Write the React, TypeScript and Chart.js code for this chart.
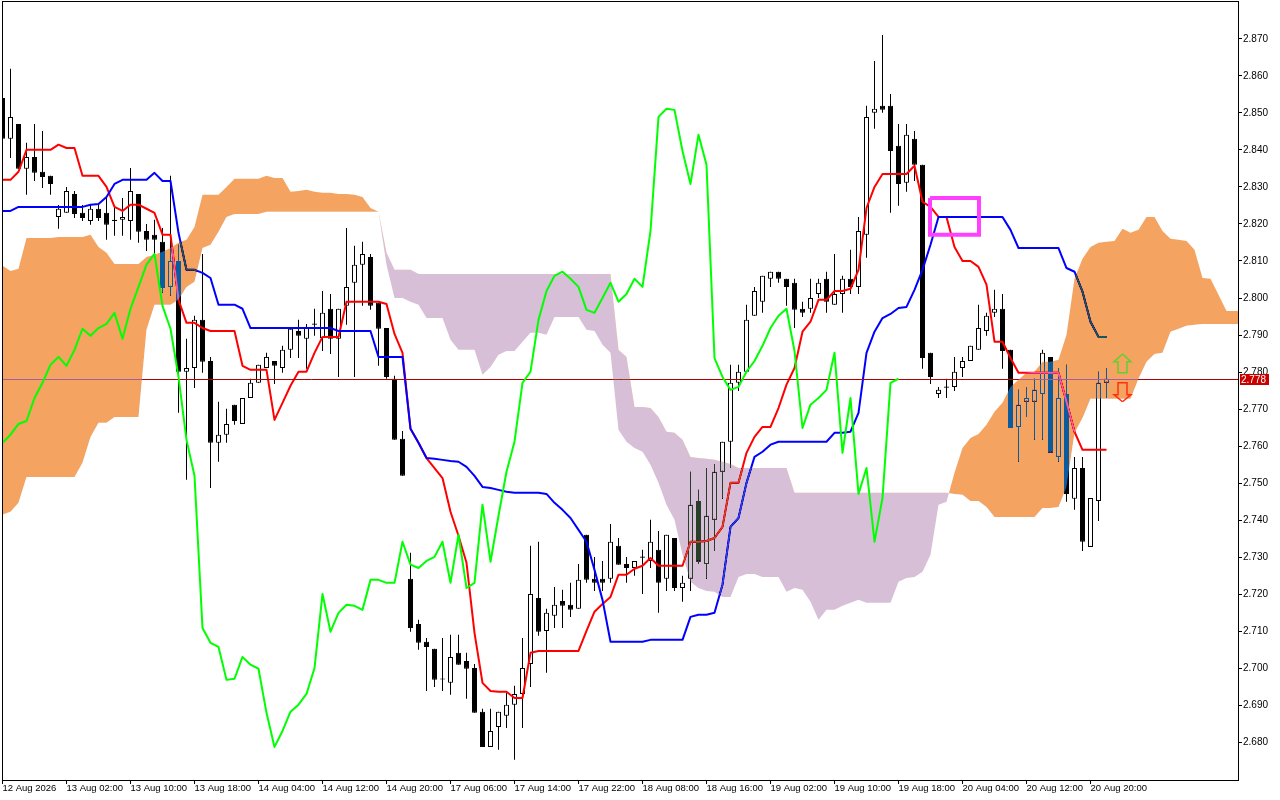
import React, { useEffect, useRef } from "react";
import { Chart, registerables } from "chart.js";

const opens = [
  2.8540,2.8430,2.8470,2.8349,2.8381,2.8341,2.8330,2.8219,2.8230,2.8281,
  2.8230,2.8208,2.8241,2.8230,2.8208,2.8211,2.8208,2.8281,2.8181,2.8171,
  2.8152,2.8030,2.8100,2.7801,2.7811,2.7941,2.7830,2.7609,2.7631,2.7712,
  2.7660,2.7730,2.7771,2.7811,2.7830,2.7811,2.7860,2.7911,2.7890,2.7928,
  2.7892,2.7971,2.7890,2.7979,2.8041,2.8090,2.8111,2.7987,2.7919,2.7782,
  2.7620,2.7242,2.7120,2.7072,2.7053,2.6970,2.6961,2.7042,2.7020,2.7001,
  2.6883,2.6788,2.6842,2.6872,2.6902,2.6931,2.7012,2.7190,2.7101,2.7142,
  2.7182,2.7172,2.7161,2.7361,2.7242,2.7242,2.7242,2.7331,2.7282,2.7271,
  2.7299,2.7290,2.7320,2.7242,2.7352,2.7217,2.7242,2.7452,2.7282,2.7401,
  2.7531,2.7612,2.7771,2.7801,2.7952,2.7990,2.8052,2.8071,2.8052,2.8041,
  2.7971,2.7971,2.8011,2.8052,2.7982,2.8011,2.8052,2.8030,2.8171,2.8500,
  2.8519,2.8519,2.8411,2.8311,2.8430,2.8360,2.7852,2.7741,2.7758,2.7760,
  2.7811,2.7830,2.7860,2.7911,2.7960,2.7971,2.7860,2.7652,2.7720,2.7720,
  2.7741,2.7841,2.7571,2.7741,2.7458,2.7541,2.7328,2.7452,2.7771,
];
const highs = [
  2.8540,2.8619,2.8470,2.8419,2.8470,2.8451,2.8330,2.8251,2.8300,2.8289,
  2.8251,2.8251,2.8251,2.8270,2.8246,2.8270,2.8351,2.8281,2.8200,2.8211,
  2.8189,2.8330,2.8144,2.7890,2.7952,2.8119,2.7841,2.7720,2.7701,2.7712,
  2.7730,2.7782,2.7820,2.7852,2.7830,2.7871,2.7917,2.7941,2.7930,2.7971,
  2.8019,2.8011,2.7971,2.8189,2.8141,2.8152,2.8119,2.7987,2.7919,2.7790,
  2.7641,2.7312,2.7131,2.7082,2.7053,2.7082,2.7091,2.7091,2.7042,2.7012,
  2.6891,2.6891,2.6883,2.6934,2.6953,2.7082,2.7331,2.7342,2.7161,2.7220,
  2.7212,2.7231,2.7282,2.7361,2.7301,2.7290,2.7390,2.7352,2.7301,2.7290,
  2.7320,2.7401,2.7371,2.7361,2.7352,2.7250,2.7531,2.7482,2.7541,2.7552,
  2.7612,2.7820,2.7820,2.7982,2.8030,2.8060,2.8071,2.8071,2.8052,2.8052,
  2.7990,2.8052,2.8052,2.8071,2.8119,2.8060,2.8130,2.8219,2.8519,2.8640,
  2.8710,2.8551,2.8470,2.8470,2.8451,2.8360,2.7852,2.7760,2.7782,2.7841,
  2.7841,2.7871,2.7982,2.7960,2.8022,2.8011,2.7860,2.7752,2.7760,2.7782,
  2.7860,2.7841,2.7811,2.7820,2.7571,2.7571,2.7460,2.7801,2.7811,
];
const lows = [
  2.8430,2.8378,2.8349,2.8279,2.8316,2.8297,2.8279,2.8187,2.8230,2.8216,
  2.8208,2.8198,2.8208,2.8157,2.8168,2.8168,2.8157,2.8149,2.8127,2.8119,
  2.8014,2.8006,2.7690,2.7509,2.7757,2.7798,2.7487,2.7558,2.7609,2.7658,
  2.7660,2.7730,2.7771,2.7811,2.7768,2.7798,2.7838,2.7838,2.7809,2.7898,
  2.7857,2.7849,2.7787,2.7928,2.7787,2.7979,2.7968,2.7817,2.7782,2.7617,
  2.7520,2.7099,2.7050,2.6939,2.6950,2.6939,2.6929,2.7010,2.6918,2.6880,
  2.6788,2.6788,2.6780,2.6839,2.6753,2.6839,2.6950,2.7088,2.6988,2.7109,
  2.7109,2.7139,2.7161,2.7231,2.7209,2.7209,2.7231,2.7280,2.7231,2.7250,
  2.7201,2.7271,2.7150,2.7209,2.7209,2.7180,2.7209,2.7282,2.7242,2.7317,
  2.7458,2.7541,2.7749,2.7801,2.7952,2.7960,2.8030,2.8041,2.7979,2.7919,
  2.7949,2.7960,2.8000,2.7960,2.7982,2.7960,2.8011,2.8011,2.8109,2.8457,
  2.8500,2.8230,2.8249,2.8287,2.8316,2.7809,2.7768,2.7730,2.7730,2.7749,
  2.7787,2.7830,2.7860,2.7898,2.7949,2.7809,2.7649,2.7558,2.7679,2.7617,
  2.7617,2.7582,2.7558,2.7450,2.7428,2.7317,2.7328,2.7398,2.7730,
];
const closes = [
  2.8430,2.8489,2.8349,2.8381,2.8338,2.8327,2.8308,2.8241,2.8289,2.8227,
  2.8216,2.8241,2.8216,2.8198,2.8211,2.8219,2.8289,2.8179,2.8157,2.8157,
  2.8027,2.8100,2.7801,2.7811,2.7941,2.7828,2.7609,2.7631,2.7660,2.7668,
  2.7730,2.7771,2.7820,2.7841,2.7817,2.7860,2.7917,2.7898,2.7919,2.7931,
  2.7960,2.7890,2.7971,2.8030,2.8090,2.8119,2.7979,2.7917,2.7787,2.7617,
  2.7520,2.7109,2.7069,2.7058,2.6969,2.6973,2.7031,2.7010,2.6999,2.6880,
  2.6788,2.6831,2.6883,2.6902,2.6931,2.7001,2.7201,2.7099,2.7150,2.7172,
  2.7169,2.7158,2.7239,2.7239,2.7231,2.7231,2.7342,2.7280,2.7271,2.7290,
  2.7302,2.7342,2.7231,2.7361,2.7217,2.7231,2.7442,2.7288,2.7412,2.7531,
  2.7612,2.7771,2.7801,2.7941,2.8019,2.8060,2.8071,2.8052,2.8030,2.7968,
  2.7960,2.8000,2.8041,2.7990,2.8011,2.8052,2.8030,2.8181,2.8489,2.8511,
  2.8508,2.8397,2.8308,2.8441,2.8360,2.7838,2.7787,2.7752,2.7761,2.7801,
  2.7830,2.7871,2.7919,2.7952,2.7971,2.7857,2.7649,2.7712,2.7730,2.7752,
  2.7852,2.7582,2.7730,2.7471,2.7541,2.7342,2.7460,2.7771,2.7782,
];
const tenkan = [
  2.8319,2.8319,2.8341,2.8400,2.8400,2.8400,2.8400,2.8414,2.8405,2.8405,
  2.8330,2.8330,2.8330,2.8300,2.8246,2.8235,2.8252,2.8252,2.8241,2.8230,
  2.8171,2.8171,2.7995,2.7933,2.7933,2.7919,2.7911,2.7911,2.7911,2.7911,
  2.7817,2.7806,2.7806,2.7806,2.7671,2.7717,2.7763,2.7801,2.7801,2.7852,
  2.7895,2.7895,2.7895,2.7990,2.7990,2.7990,2.7990,2.7990,2.7984,2.7903,
  2.7852,2.7647,2.7609,2.7568,2.7541,2.7514,2.7423,2.7358,2.7285,2.7096,
  2.6961,2.6939,2.6937,2.6937,2.6920,2.6920,2.7042,2.7047,2.7047,2.7047,
  2.7047,2.7047,2.7047,2.7101,2.7153,2.7174,2.7193,2.7253,2.7253,2.7269,
  2.7277,2.7298,2.7277,2.7277,2.7277,2.7277,2.7342,2.7342,2.7344,2.7352,
  2.7382,2.7501,2.7501,2.7582,2.7625,2.7652,2.7652,2.7703,2.7766,2.7811,
  2.7909,2.7936,2.7995,2.7995,2.8019,2.8019,2.8025,2.8076,2.8243,2.8300,
  2.8335,2.8335,2.8335,2.8335,2.8357,2.8260,2.8246,2.8219,2.8219,2.8138,
  2.8100,2.8100,2.8084,2.8036,2.7882,2.7882,2.7838,2.7798,2.7798,2.7798,
  2.7798,2.7798,2.7798,2.7720,2.7639,2.7590,2.7590,2.7590,2.7590,
];
const kijun = [
  2.8235,2.8235,2.8246,2.8246,2.8246,2.8246,2.8246,2.8246,2.8246,2.8246,
  2.8246,2.8252,2.8254,2.8273,2.8308,2.8319,2.8319,2.8319,2.8319,2.8338,
  2.8316,2.8316,2.8176,2.8076,2.8076,2.8068,2.8054,2.7982,2.7982,2.7982,
  2.7971,2.7919,2.7919,2.7919,2.7919,2.7919,2.7919,2.7919,2.7919,2.7919,
  2.7919,2.7919,2.7911,2.7911,2.7911,2.7911,2.7911,2.7841,2.7841,2.7841,
  2.7841,2.7647,2.7609,2.7568,2.7566,2.7563,2.7560,2.7558,2.7544,2.7520,
  2.7490,2.7487,2.7482,2.7477,2.7474,2.7474,2.7474,2.7474,2.7471,2.7447,
  2.7428,2.7406,2.7374,2.7342,2.7266,2.7185,2.7072,2.7072,2.7072,2.7072,
  2.7072,2.7077,2.7077,2.7077,2.7077,2.7077,2.7139,2.7145,2.7145,2.7150,
  2.7226,2.7382,2.7406,2.7501,2.7571,2.7585,2.7604,2.7612,2.7612,2.7612,
  2.7612,2.7612,2.7612,2.7612,2.7636,2.7636,2.7639,2.7690,2.7852,2.7909,
  2.7946,2.7957,2.7973,2.7976,2.8022,2.8076,2.8144,2.8219,2.8219,2.8219,
  2.8219,2.8219,2.8219,2.8219,2.8219,2.8219,2.8184,2.8135,2.8135,2.8135,
  2.8135,2.8135,2.8135,2.8081,2.8071,2.8017,2.7936,2.7895,2.7895,
];
const chikou = [
  2.7609,2.7631,2.7660,2.7668,2.7730,2.7771,2.7820,2.7841,2.7817,2.7860,
  2.7917,2.7898,2.7919,2.7930,2.7960,2.7890,2.7971,2.8030,2.8090,2.8119,
  2.7979,2.7917,2.7787,2.7617,2.7520,2.7109,2.7069,2.7058,2.6969,2.6972,
  2.7031,2.7010,2.6999,2.6880,2.6788,2.6831,2.6883,2.6902,2.6931,2.7001,
  2.7201,2.7099,2.7150,2.7172,2.7169,2.7158,2.7239,2.7239,2.7231,2.7231,
  2.7342,2.7280,2.7271,2.7290,2.7301,2.7342,2.7231,2.7361,2.7217,2.7231,
  2.7442,2.7288,2.7412,2.7531,2.7612,2.7771,2.7801,2.7941,2.8019,2.8060,
  2.8071,2.8052,2.8030,2.7968,2.7960,2.8000,2.8041,2.7990,2.8011,2.8052,
  2.8030,2.8181,2.8489,2.8511,2.8508,2.8397,2.8308,2.8441,2.8360,2.7838,
  2.7787,2.7752,2.7760,2.7801,2.7830,2.7871,2.7919,2.7952,2.7971,2.7857,
  2.7649,2.7712,2.7730,2.7752,2.7852,2.7582,2.7730,2.7471,2.7541,2.7342,
  2.7460,2.7771,2.7782,
];
const senkouA = [
  2.8087,2.8073,2.8079,2.8162,2.8162,2.8162,2.8162,2.8165,2.8165,2.8165,
  2.8165,2.8171,2.8138,2.8122,2.8092,2.8092,2.8092,2.8092,2.8111,2.8117,
  2.8125,2.8135,2.8149,2.8157,2.8192,2.8279,2.8279,2.8279,2.8300,2.8322,
  2.8322,2.8322,2.8322,2.8330,2.8324,2.8324,2.8287,2.8289,2.8292,2.8287,
  2.8284,2.8284,2.8281,2.8281,2.8279,2.8273,2.8243,2.8233,2.8090,2.8000,
  2.8000,2.7990,2.7982,2.7946,2.7946,2.7946,2.7887,2.7860,2.7860,2.7860,
  2.7793,2.7814,2.7847,2.7857,2.7857,2.7882,2.7906,2.7906,2.7901,2.7949,
  2.7949,2.7949,2.7949,2.7914,2.7911,2.7874,2.7852,2.7644,2.7612,2.7595,
  2.7585,2.7550,2.7501,2.7442,2.7401,2.7307,2.7234,2.7217,2.7209,2.7207,
  2.7193,2.7193,2.7247,2.7255,2.7255,2.7247,2.7247,2.7247,2.7207,2.7217,
  2.7212,2.7180,2.7131,2.7158,2.7158,2.7169,2.7177,2.7185,2.7177,2.7177,
  2.7177,2.7177,2.7234,2.7244,2.7247,2.7261,2.7307,2.7442,2.7450,2.7528,
  2.7595,2.7622,2.7633,2.7658,2.7693,2.7717,2.7760,2.7779,2.7798,2.7801,
  2.7828,2.7828,2.7833,2.7901,2.8052,2.8106,2.8138,2.8149,2.8152,2.8154,
  2.8187,2.8176,2.8184,2.8219,2.8219,2.8181,2.8160,2.8157,2.8154,2.8130,
  2.8054,2.8052,2.8009,2.7965,2.7965,2.7965,
];
const senkouB = [
  2.7415,2.7423,2.7447,2.7517,2.7517,2.7517,2.7517,2.7517,2.7517,2.7517,
  2.7555,2.7625,2.7663,2.7663,2.7679,2.7679,2.7679,2.7679,2.7914,2.7982,
  2.7982,2.7982,2.7995,2.8030,2.8044,2.8135,2.8144,2.8179,2.8219,2.8227,
  2.8227,2.8227,2.8227,2.8233,2.8233,2.8233,2.8233,2.8233,2.8233,2.8233,
  2.8233,2.8233,2.8233,2.8233,2.8233,2.8233,2.8233,2.8233,2.8122,2.8076,
  2.8076,2.8076,2.8065,2.8065,2.8065,2.8065,2.8065,2.8065,2.8065,2.8065,
  2.8065,2.8065,2.8065,2.8065,2.8065,2.8065,2.8065,2.8065,2.8065,2.8065,
  2.8065,2.8065,2.8065,2.8065,2.8065,2.8065,2.8065,2.7860,2.7841,2.7706,
  2.7706,2.7703,2.7679,2.7639,2.7636,2.7617,2.7571,2.7568,2.7566,2.7563,
  2.7558,2.7552,2.7541,2.7541,2.7541,2.7541,2.7541,2.7541,2.7541,2.7474,
  2.7474,2.7474,2.7474,2.7474,2.7474,2.7474,2.7474,2.7474,2.7474,2.7474,
  2.7474,2.7474,2.7474,2.7474,2.7474,2.7474,2.7474,2.7474,2.7474,2.7471,
  2.7469,2.7452,2.7452,2.7436,2.7409,2.7409,2.7409,2.7409,2.7409,2.7409,
  2.7433,2.7433,2.7436,2.7490,2.7636,2.7676,2.7728,2.7728,2.7728,2.7728,
  2.7728,2.7728,2.7782,2.7828,2.7849,2.7852,2.7909,2.7917,2.7925,2.7928,
  2.7930,2.7930,2.7930,2.7930,2.7930,2.7930,
];
const timeTickIndex = [0,8,16,24,32,40,48,56,64,72,80,88,96,104,112,120,128,136];
const timeTickLabels = [
  "12 Aug 2026","13 Aug 02:00","13 Aug 10:00","13 Aug 18:00","14 Aug 04:00","14 Aug 12:00",
  "14 Aug 20:00","17 Aug 06:00","17 Aug 14:00","17 Aug 22:00","18 Aug 08:00","18 Aug 16:00",
  "19 Aug 02:00","19 Aug 10:00","19 Aug 18:00","20 Aug 04:00","20 Aug 12:00","20 Aug 20:00",
];
const priceTicks = [
  2.68,2.69,2.70,2.71,2.72,2.73,2.74,2.75,2.76,2.77,2.78,2.79,2.80,2.81,2.82,2.83,2.84,2.85,2.86,2.87,
];
const lastPrice = 2.778;
const boxIndex = [115.94, 122.06, 122.06, 115.94, 115.94];
const boxPrice = [2.8270, 2.8270, 2.8171, 2.8171, 2.8270];
const upArrowIndex = [140, 141.06, 140.56, 140.56, 139.44, 139.44, 138.94, 140];
const upArrowPrice = [2.7849, 2.7828, 2.7828, 2.7798, 2.7798, 2.7828, 2.7828, 2.7849];
const downArrowIndex = [140, 141.06, 140.56, 140.56, 139.44, 139.44, 138.94, 140];
const downArrowPrice = [2.7720, 2.7739, 2.7739, 2.7771, 2.7771, 2.7739, 2.7739, 2.7720];

const FONT = '"Liberation Sans", Arial, sans-serif';

const xy = (ys: number[]) => ys.map((y, x) => ({ x, y }));
const pairs = (xs: number[], ys: number[]) => xs.map((x, i) => ({ x, y: ys[i] }));

const blendPlugin = {
  id: "kumoBlend",
  beforeDraw(chart: any) {
    const { ctx, width, height } = chart;
    ctx.save();
    ctx.fillStyle = "#ffffff";
    ctx.fillRect(0, 0, width, height);
    ctx.restore();
  },
  beforeDatasetDraw(chart: any, args: any) {
    if (chart.data.datasets[args.index].label === "Senkou A") {
      chart.ctx.save();
      chart.ctx.globalCompositeOperation = "difference";
    }
  },
  afterDatasetDraw(chart: any, args: any) {
    if (chart.data.datasets[args.index].label === "Senkou A") {
      chart.ctx.restore();
    }
  },
  afterDraw(chart: any) {
    const { ctx, chartArea, scales } = chart;
    ctx.save();
    ctx.strokeStyle = "#000000";
    ctx.lineWidth = 1;
    ctx.strokeRect(
      chartArea.left - 0.5,
      chartArea.top - 0.5,
      chartArea.right - chartArea.left + 1,
      chartArea.bottom - chartArea.top + 1
    );
    const y = scales.y.getPixelForValue(lastPrice);
    const top = Math.round(y) - 6;
    ctx.fillStyle = "#C80000";
    ctx.fillRect(chartArea.right + 2, top, 29, 11);
    ctx.fillStyle = "#ffffff";
    ctx.font = `10px ${FONT}`;
    ctx.textAlign = "left";
    ctx.textBaseline = "middle";
    ctx.fillText(lastPrice.toFixed(3), chartArea.right + 3, top + 6);
    ctx.restore();
  },
};

Chart.register(blendPlugin as any);
Chart.register(...registerables);

export default function App() {
  const ref = useRef<HTMLCanvasElement | null>(null);
  useEffect(() => {
    if (!ref.current) return;
    const lineBase = { type: "line", pointRadius: 0, borderWidth: 2, tension: 0, fill: false, borderJoinStyle: "round" };
    const chart = new Chart(ref.current, {
      type: "bar",
      data: {
        datasets: [
          {
            label: "Wicks",
            type: "bar",
            order: 10,
            grouped: false,
            barThickness: 1,
            inflateAmount: 0,
            backgroundColor: "#000000",
            borderWidth: 0,
            data: highs.map((h, x) => ({ x, y: [lows[x], h] })),
          },
          {
            label: "Bodies",
            type: "bar",
            order: 9,
            grouped: false,
            barThickness: 5,
            inflateAmount: 0,
            borderSkipped: false,
            borderWidth: 1,
            borderColor: "#000000",
            backgroundColor: opens.map((o, i) => (closes[i] >= o ? "#ffffff" : "#000000")),
            data: opens.map((o, x) => ({ x, y: [o, closes[x]] })),
          },
          { ...lineBase, label: "Tenkan", order: 8, borderColor: "#ff0000", data: xy(tenkan) },
          { ...lineBase, label: "Kijun", order: 7, borderColor: "#0000ff", data: xy(kijun) },
          {
            ...lineBase,
            label: "Price",
            order: 6,
            borderWidth: 1,
            borderColor: "#b40000",
            data: [{ x: 0, y: lastPrice }, { x: 155, y: lastPrice }],
          },
          {
            ...lineBase,
            label: "Senkou A",
            order: 5,
            borderWidth: 0,
            borderColor: "rgba(0,0,0,0)",
            fill: { target: "+1", above: "#0B5B9F", below: "#274027" },
            data: xy(senkouA),
          },
          {
            ...lineBase,
            label: "Senkou B",
            order: 5,
            borderWidth: 0,
            borderColor: "rgba(0,0,0,0)",
            data: xy(senkouB),
          },
          { ...lineBase, label: "Chikou", order: 4, borderColor: "#00ff00", data: xy(chikou) },
          {
            ...lineBase,
            label: "Box",
            order: 3,
            borderWidth: 4,
            borderColor: "#ff40ff",
            borderJoinStyle: "miter",
            data: pairs(boxIndex, boxPrice),
          },
          {
            ...lineBase,
            label: "Up",
            order: 2,
            borderWidth: 1.5,
            borderColor: "#5fd030",
            borderJoinStyle: "miter",
            data: pairs(upArrowIndex, upArrowPrice),
          },
          {
            ...lineBase,
            label: "Down",
            order: 2,
            borderWidth: 1.5,
            borderColor: "#ff3010",
            borderJoinStyle: "miter",
            data: pairs(downArrowIndex, downArrowPrice),
          },
        ] as any,
      },
      options: {
        responsive: false,
        maintainAspectRatio: false,
        devicePixelRatio: 1,
        animation: false,
        events: [],
        layout: { padding: { left: 3, top: 2, right: 0, bottom: 0 } },
        plugins: { legend: { display: false }, tooltip: { enabled: false }, title: { display: false } },
        scales: {
          x: {
            type: "linear",
            offset: false,
            min: 0.0625,
            max: 154.4375,
            border: { display: false },
            grid: { offset: false, drawOnChartArea: false, drawTicks: true, tickLength: 4, tickColor: "#000000" },
            ticks: {
              autoSkip: false,
              maxRotation: 0,
              minRotation: 0,
              align: "start",
              padding: -1,
              color: "#000000",
              font: { family: FONT, size: 9.5 },
              callback: (v: any) => timeTickLabels[timeTickIndex.indexOf(Number(v))] ?? "",
            },
            afterBuildTicks: (s: any) => {
              s.ticks = timeTickIndex.map((value) => ({ value }));
            },
            afterFit: (s: any) => {
              s.height = 20;
              s.paddingLeft = 0;
              s.paddingRight = 0;
            },
          },
          y: {
            type: "linear",
            position: "right",
            min: 2.669865,
            max: 2.879925,
            border: { display: false },
            grid: { drawOnChartArea: false, drawTicks: true, tickLength: 4, tickColor: "#000000" },
            ticks: {
              padding: 1,
              color: "#000000",
              font: { family: FONT, size: 10 },
              callback: (v: any) => Number(v).toFixed(3),
            },
            afterBuildTicks: (s: any) => {
              s.ticks = priceTicks.map((value) => ({ value }));
            },
            afterFit: (s: any) => {
              s.width = 42;
              s.paddingTop = 0;
              s.paddingBottom = 0;
            },
          },
        },
      } as any,
    });
    return () => chart.destroy();
  }, []);
  return (
    <canvas
      ref={ref}
      width={1280}
      height={800}
      style={{ position: "fixed", left: 0, top: 0, width: 1280, height: 800, display: "block" }}
    />
  );
}
